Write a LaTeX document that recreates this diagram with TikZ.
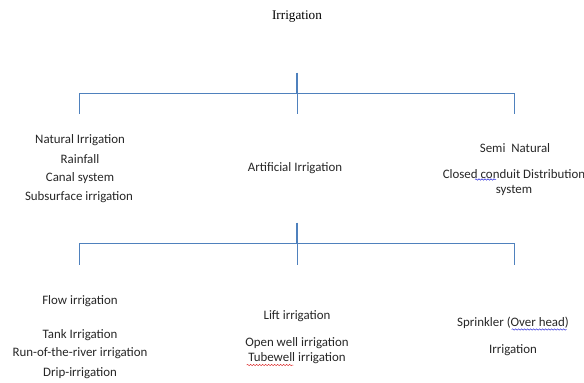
\documentclass[tikz,border=0pt]{standalone}
\usepackage{fontspec}
\setmainfont{Carlito}
\newfontfamily\titlefont{Liberation Serif}
\usetikzlibrary{decorations.pathmorphing}
\definecolor{branchblue}{RGB}{79,129,189}
\definecolor{spellred}{RGB}{220,40,40}
\definecolor{spellblue}{RGB}{40,40,220}
\begin{document}
\begin{tikzpicture}[x=1pt,y=-1pt,
  lbl/.style={font=\fontsize{12.9}{14}\selectfont, inner sep=0pt, anchor=center, text=black!85},
  ttl/.style={font=\titlefont\fontsize{13.2}{15}\selectfont, inner sep=0pt, anchor=center},
  branch/.style={draw=branchblue, line width=1pt},
  stem/.style={draw=branchblue, line width=2pt},
  spell/.style={decorate, decoration={snake, segment length=3pt, amplitude=0.7pt}, line width=0.5pt}
]
\useasboundingbox (0,0) rectangle (584,383);

% title
\node[ttl] (title) at (297,17) {Irrigation};

% first tree
\coordinate (s1t) at (297,72.7);
\coordinate (s1j) at (297,93.7);
\coordinate (l1) at (79,93.7);
\coordinate (r1) at (514,93.7);
\coordinate (l1b) at (79,114);
\coordinate (m1b) at (297,114);
\coordinate (r1b) at (514,114);
\draw[branch] (l1b) -- (l1) -- (r1) -- (r1b);
\draw[branch] (s1j) -- (m1b);
\draw[stem] (s1t) -- (s1j);

% first level labels
\node[lbl] (nat1) at (80,140) {Natural Irrigation};
\node[lbl] (nat2) at (80,159) {Rainfall};
\node[lbl] (nat3) at (80,178) {Canal system};
\node[lbl] (nat4) at (79,197) {Subsurface irrigation};
\node[lbl] (art) at (295,168) {Artificial Irrigation};
\node[lbl] (semi1) at (515,148) {Semi\ \ Natural};
\node[lbl] (semi2) at (514,174) {Closed conduit Distribution};
\node[lbl] (semi3) at (514,190) {system};

% second tree
\coordinate (s2t) at (297,222.7);
\coordinate (s2j) at (297,243.7);
\coordinate (l2) at (79,243.7);
\coordinate (r2) at (514,243.7);
\coordinate (l2b) at (79,264.7);
\coordinate (m2b) at (297,264.7);
\coordinate (r2b) at (514,264.7);
\draw[branch] (l2b) -- (l2) -- (r2) -- (r2b);
\draw[branch] (s2j) -- (m2b);
\draw[stem] (s2t) -- (s2j);

% second level labels
\node[lbl] (flow1) at (80,301) {Flow irrigation};
\node[lbl] (flow2) at (80,335) {Tank Irrigation};
\node[lbl] (flow3) at (80,353) {Run-of-the-river irrigation};
\node[lbl] (flow4) at (80,373) {Drip-irrigation};
\node[lbl] (lift1) at (297,316) {Lift irrigation};
\node[lbl] (lift2) at (297,343) {Open well irrigation};
\node[lbl] (lift3) at (297,358) {Tubewell irrigation};
\node[lbl] (spr1) at (513,323) {Sprinkler (Over head)};
\node[lbl] (spr2) at (513,350) {Irrigation};

% spell-check underlines
\draw[spell, spellblue] (475,179.5) -- (496,179.5);
\draw[spell, spellred] (246.7,365) -- (293.3,365);
\draw[spell, spellblue] (511.7,329.5) -- (566.7,329.5);
\end{tikzpicture}
\end{document}
